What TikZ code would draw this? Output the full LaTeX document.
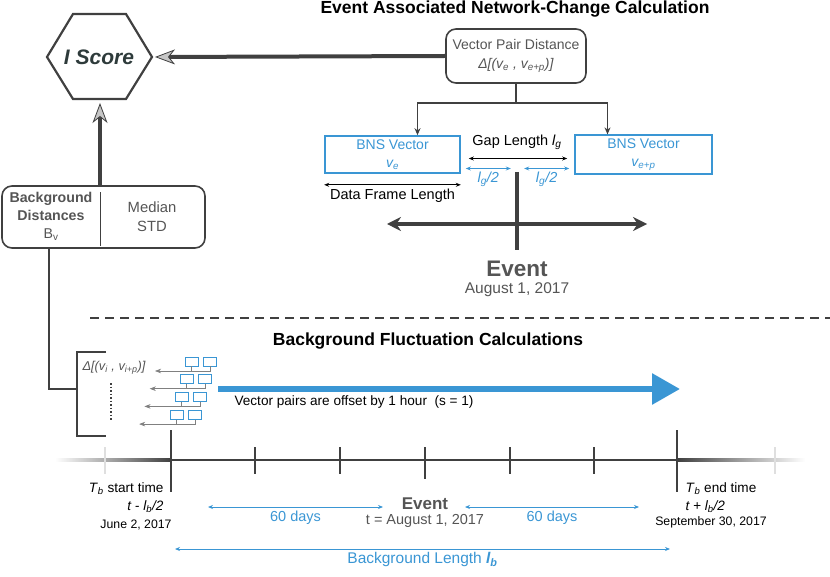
\documentclass[tikz,border=0pt]{standalone}
\usepackage{fontspec}
\setmainfont{Liberation Sans}
\usepackage{xcolor}
\usetikzlibrary{arrows.meta,positioning}

\definecolor{linegray}{HTML}{404040}
\definecolor{textgray}{HTML}{555555}
\definecolor{bnsblue}{HTML}{3A96D4}
\definecolor{hexgreen}{HTML}{2E3B3B}
\newcommand{\fsz}[2]{\fontsize{#1}{#2}\selectfont}

\begin{document}
\begin{tikzpicture}[x=1pt,y=-1pt,>=Stealth,
  rbox/.style={draw=linegray,line width=1.6pt,rounded corners=10pt,text=textgray,align=center},
  bnsbox/.style={draw=bnsblue,line width=1.6pt,text=bnsblue,align=center,minimum height=37pt,font=\fsz{14}{18}},
  tline/.style={draw=linegray,line width=1.8pt},
  bigarrow/.style={draw=linegray,line width=4pt,-{Stealth[length=20pt,width=15pt,inset=6pt,fill=gray!45,line width=0.8pt]}},
  evaxis/.style={draw=linegray,line width=3.5pt,{Stealth[length=14pt,width=14pt,line width=0.5pt]}-{Stealth[length=14pt,width=14pt,line width=0.5pt]}},
  dimline/.style={line width=0.8pt,{Stealth[length=5pt,width=4pt]}-{Stealth[length=5pt,width=4pt]}},
  bluedim/.style={dimline,draw=bnsblue,text=bnsblue,font=\fsz{14.5}{16}},
  pairbox/.style={draw=bnsblue,line width=0.9pt,minimum width=13pt,minimum height=9pt,inner sep=0pt},
  pairline/.style={draw=gray,line width=0.7pt},
  tick/.style={draw=linegray,line width=2pt},
  title/.style={font=\bfseries\fsz{17.5}{20}}]
\useasboundingbox (0,0) rectangle (830,577);

% I Score hexagon
\draw[linegray,line width=2.2pt] (47,57) -- (73,14) -- (126,14) -- (152,57) -- (126,99) -- (73,99) -- cycle;
\node[font=\bfseries\itshape\fsz{21}{24},text=hexgreen] (iscore) at (99,57) {I Score};
\coordinate (hexR) at (155,57);
\coordinate (hexB) at (100,103);

% event associated part
\node[title] (evtitle) at (515,9) {Event Associated Network-Change Calculation};
\node[rbox,minimum width=140pt,minimum height=54pt,font=\fsz{14}{19}] (vpd) at (516,56)
  {Vector Pair Distance\\\textit{Δ[(v\textsubscript{e} , v\textsubscript{e+p})]}};
\draw[bigarrow] (vpd.west) -- (hexR);

\node[bnsbox,minimum width=135pt] (bnsL) at (392.5,154.5) {BNS Vector\\\textit{v\textsubscript{e}}};
\node[bnsbox,minimum width=137pt] (bnsR) at (643.5,154.5) {BNS Vector\\\textit{v\textsubscript{e+p}}};
\draw[tline] (vpd.south) -- ++(0,19) coordinate (fork);
\draw[tline,-{Stealth[length=7pt,width=6pt]}] (fork) -| ([xshift=25pt]bnsL.north);
\draw[tline,-{Stealth[length=7pt,width=6pt]}] (fork) -| ([xshift=-36pt]bnsR.north);

% gap and frame lengths
\node[font=\fsz{14.5}{16}] (gap) at (517,142) {Gap Length \textit{l\textsubscript{g}}};
\draw[dimline] ([shift={(8,4)}]bnsL.east) -- ([shift={(-7,4)}]bnsR.west);
\draw[bluedim] ([shift={(5,14)}]bnsL.east) -- ([shift={(50,14)}]bnsL.east)
  node[midway,below] {\textit{l\textsubscript{g}/2}};
\draw[bluedim] ([shift={(-50,14)}]bnsR.west) -- ([shift={(-5,14)}]bnsR.west)
  node[midway,below] {\textit{l\textsubscript{g}/2}};
\draw[dimline] ([yshift=-11pt]bnsL.south west) -- ([yshift=-11pt]bnsL.south east)
  node[midway,below,font=\fsz{14.5}{16}] (dfl) {Data Frame Length};

% event axis
\coordinate (evtop) at (517,172);
\coordinate (evbot) at (517,250);
\coordinate (axL) at (387,224);
\coordinate (axR) at (647,224);
\draw[linegray,line width=4pt] (evtop) -- (evbot);
\draw[evaxis] (axL) -- (axR);
\node[font=\bfseries\fsz{22.5}{26},text=textgray] (evlbl) at (517,269) {Event};
\node[below=-1pt of evlbl,font=\fsz{15.5}{18},text=textgray] (evdate) {August 1, 2017};

\draw[linegray,line width=1.5pt,dash pattern=on 9pt off 6pt] (90,318) -- (830,318);

% background distances
\node[rbox,minimum width=203pt,minimum height=62pt] (bgd) at (103.5,217) {};
\node[font=\fsz{14.2}{18},text=textgray,align=center] (bgdname) at (51,216)
  {\textbf{Background}\\\textbf{Distances}\\B\textsubscript{v}};
\node[font=\fsz{14.8}{19},text=textgray,align=center] (bgdstat) at (152,216.5) {Median\\STD};
\draw[linegray,line width=1pt] ([shift={(-3.5,7)}]bgd.north) -- ([shift={(-3.5,-3)}]bgd.south);
\draw[bigarrow] ([xshift=-3.5pt]bgd.north) -- (hexB);

% background fluctuation part
\node[title] (bgtitle) at (428,341) {Background Fluctuation Calculations};
\coordinate (brk) at (77,389);
\draw[tline] ([xshift=-54.5pt]bgd.south) |- (brk);
\draw[linegray,line width=2pt] (106,352) -| (77,436) -- (106,436);
\node[font=\itshape\fsz{12.8}{14},text=textgray] (dvi) at (114,368)
  {Δ[(v\textsubscript{i} , v\textsubscript{i+p})]};
\draw[linegray,line width=2pt,dash pattern=on 1.5pt off 2pt] (111,383) -- (111,421);

\foreach \k in {0,...,3}{
  \pgfmathsetmacro\bx{185-5*\k}
  \pgfmathsetmacro\by{357+17.7*\k}
  \node[pairbox] (pa\k) at (\bx+6.5,\by+4.5) {};
  \node[pairbox,right=5pt of pa\k] (pb\k) {};
  \coordinate (pl\k) at (155-5.3*\k,\by+14);
  \draw[pairline,<-] (pl\k) -| (pb\k.south);
  \draw[pairline] (pa\k.south) -- (pa\k.south |- pl\k);
}

\coordinate (offS) at (218,389);
\coordinate (offE) at (680,389);
\draw[draw=bnsblue,line width=6pt,-{Triangle[length=28pt,width=30pt]}] (offS) -- (offE);
\node[anchor=west,font=\fsz{13.6}{15}] (offlbl) at (231,402) {Vector pairs are offset by 1 hour\ \ (s = 1)};

% time line
\coordinate (tstart) at (171,460);
\coordinate (tevent) at (425,460);
\coordinate (tend) at (677,460);
\shade[left color=white,right color=linegray] (55,458.8) rectangle (171,461.2);
\shade[left color=linegray,right color=white] (677,458.8) rectangle (805,461.2);
\draw[tick] (tstart) -- (tend);
\draw[gray!25,line width=2pt] (105,447) -- (105,474) (775,447) -- (775,474);
\foreach \x in {255,340,510,594} \draw[tick] (\x,447) -- (\x,474);
\draw[tick] ([yshift=13pt]tevent) -- ([yshift=-19pt]tevent);
\draw[tick] ([yshift=30pt]tstart) -- ([yshift=-32pt]tstart);
\draw[tick] ([yshift=30pt]tend) -- ([yshift=-32pt]tend);

\node[anchor=east,font=\fsz{13.6}{15}] (tsl) at (167,489) {\textit{T}\textsubscript{\textit{b}} start time};
\node[anchor=east,font=\itshape\fsz{13.6}{15}] (tse) at (167,507) {t - l\textsubscript{b}/2};
\node[font=\fsz{12.3}{14}] (tsd) at (136,525) {June 2, 2017};
\node[anchor=west,font=\fsz{13.6}{15}] (tel) at (682,489) {\textit{T}\textsubscript{\textit{b}} end time};
\node[anchor=west,font=\itshape\fsz{13.6}{15}] (tee) at (682,507) {t + l\textsubscript{b}/2};
\node[font=\fsz{12.3}{14}] (ted) at (711,522) {September 30, 2017};

\node[font=\bfseries\fsz{17}{20},text=textgray] (ev2) at (425,504) {Event};
\node[below=-3pt of ev2,font=\fsz{14.5}{16},text=textgray] (ev2date) {t = August 1, 2017};

\draw[bluedim] ([shift={(37,47)}]tstart) -- ([shift={(-42,47)}]tevent) node[midway,below] (d60a) {60 days};
\draw[bluedim] ([shift={(40,47)}]tevent) -- ([shift={(-38,47)}]tend) node[midway,below] (d60b) {60 days};
\draw[bluedim] ([shift={(4,89)}]tstart) -- ([shift={(-7,89)}]tend)
  node[midway,below,font=\fsz{15.5}{18}] (bglen) {Background Length \textbf{\textit{l\textsubscript{b}}}};
\end{tikzpicture}
\end{document}
